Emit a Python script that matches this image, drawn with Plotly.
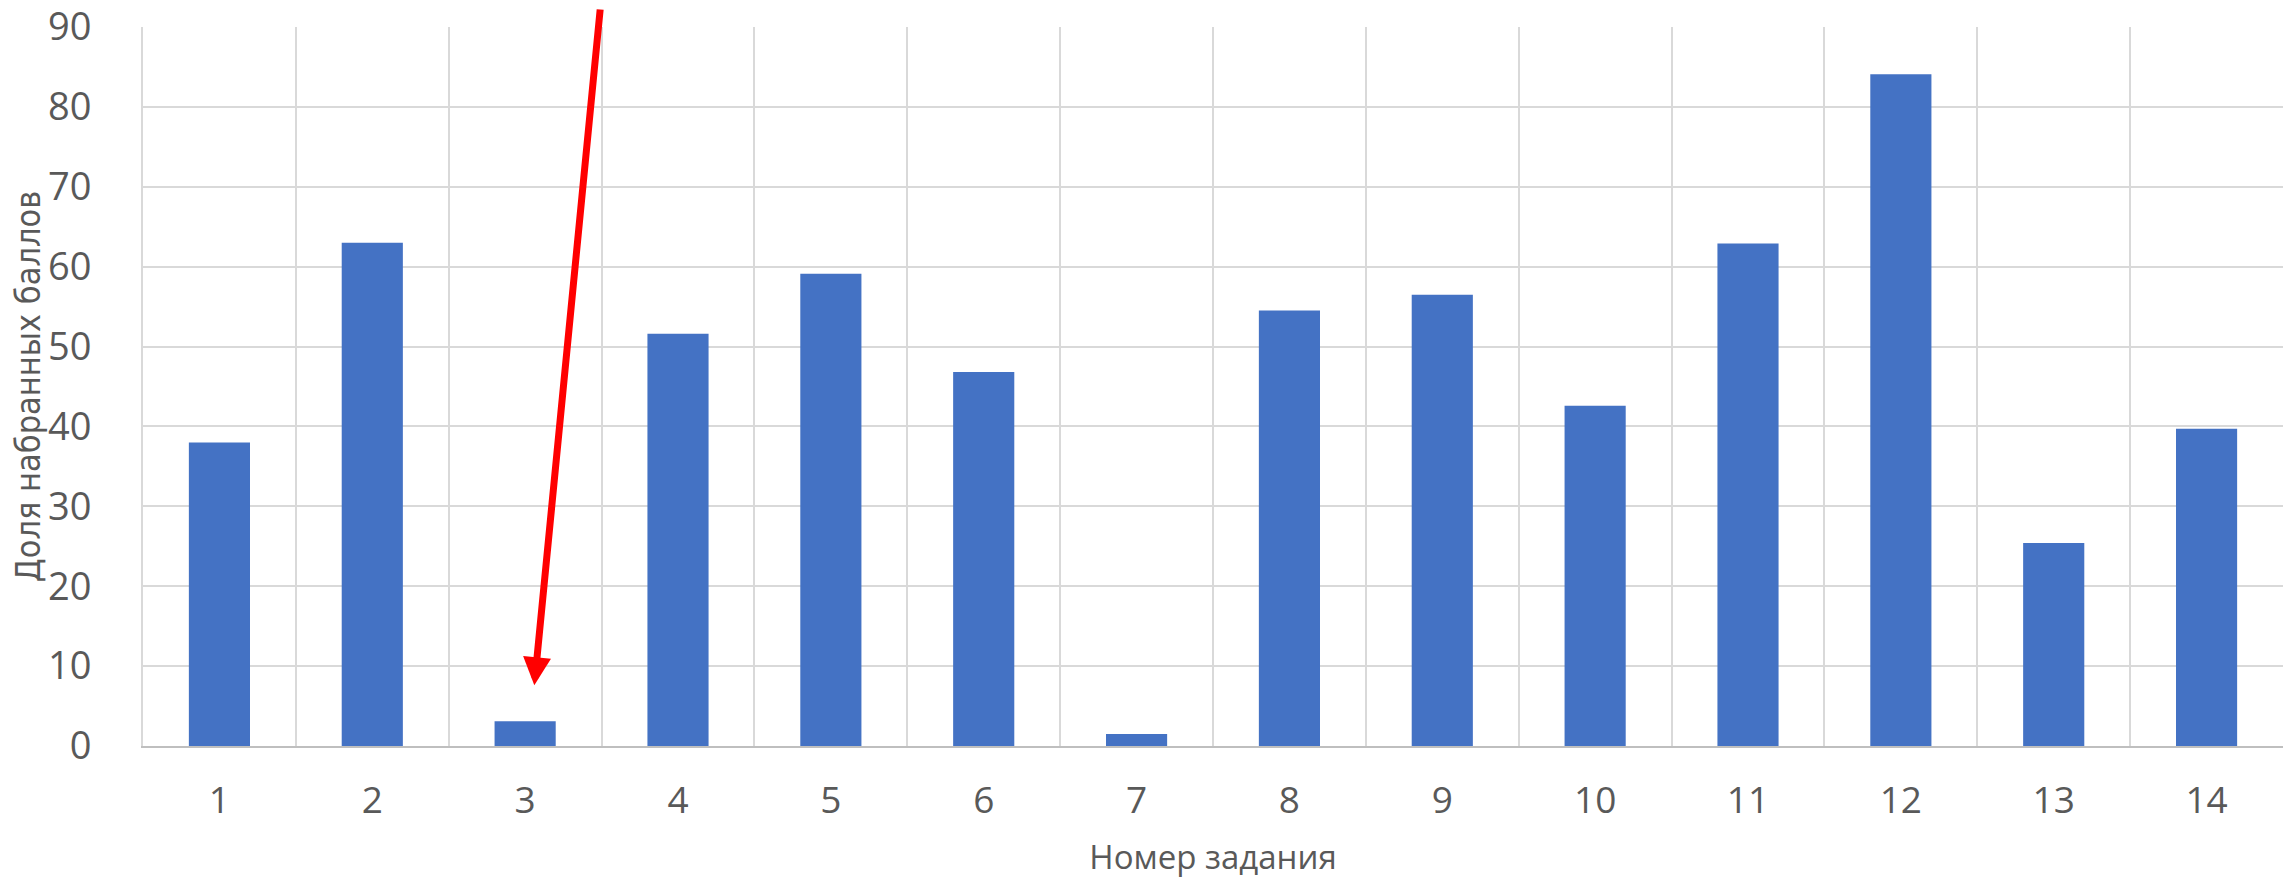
import plotly.graph_objects as go

tasks = [str(i) for i in range(1, 15)]
shares = [38.0, 63.0, 3.1, 51.6, 59.1, 46.8, 1.5, 54.5, 56.5, 42.6, 62.9, 84.1, 25.4, 39.7]
y_ticks = [0, 10, 20, 30, 40, 50, 60, 70, 80, 90]

fig = go.Figure()
fig.add_trace(go.Bar(x=tasks, y=shares, marker=dict(color="#4472c4", line=dict(width=0)),
                     width=0.4))

# arrow pointing at task 3 (category index 2)
fig.add_annotation(x=2.06, y=7.6, xref="x", yref="y", axref="pixel", ayref="pixel",
                   ax=66, ay=-700, showarrow=True, arrowhead=2, arrowsize=0.8,
                   arrowwidth=7, arrowcolor="#ff0000", text="", standoff=0)

fig.update_layout(
    width=2295, height=877,
    margin=dict(l=135, r=20, t=19, b=139),
    plot_bgcolor="white", paper_bgcolor="white",
    showlegend=False,
    xaxis=dict(type="category", tickson="boundaries", showgrid=True, gridcolor="#d9d9d9",
               gridwidth=2, ticks="", showline=True, linecolor="#bfbfbf", linewidth=2,
               automargin=False, ticklabelstandoff=21,
               tickfont=dict(family="Open Sans", size=37, color="#595959"),
               title=dict(text="Номер задания", font=dict(family="Open Sans", size=33, color="#595959"),
                          standoff=22),
               range=[-0.5, 13.5]),
    yaxis=dict(range=[0, 90], tickvals=y_ticks, showgrid=True, gridcolor="#d9d9d9", gridwidth=2,
               zeroline=False, showline=True, linecolor="#d9d9d9", linewidth=2, ticks="",
               automargin=False, ticklabelstandoff=42, ticklabeloverflow="allow",
               tickfont=dict(family="Open Sans", size=38, color="#595959"),
               title=dict(text="Доля набранных баллов",
                          font=dict(family="DejaVu Sans Condensed, DejaVu Sans", size=34, color="#595959"),
                          standoff=4)),
)

fig.write_html("out.html")
